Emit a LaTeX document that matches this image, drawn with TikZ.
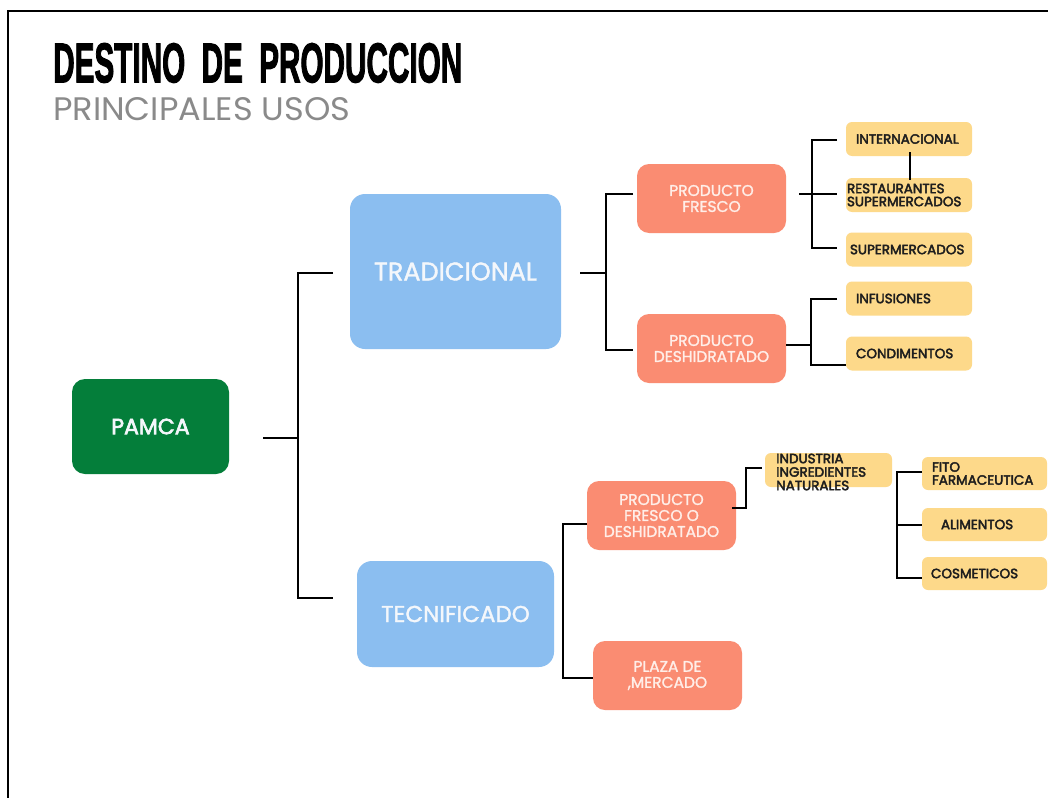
\documentclass[tikz,border=0pt]{standalone}
\usepackage{fontspec}
\setmainfont{Poppins}
\newfontfamily\titlefont[FakeBold=2.5]{Liberation Sans Bold}
\newfontfamily\medfont[FakeBold=1.5]{Poppins}
\newfontfamily\semifont[FakeBold=3]{Poppins}
\usetikzlibrary{calc}
\definecolor{pgreen}{HTML}{047E3A}
\definecolor{pblue}{HTML}{8BBEF0}
\definecolor{psalmon}{HTML}{FA8C72}
\definecolor{pyellow}{HTML}{FDD98A}
\definecolor{wtext}{HTML}{F4F7FB}
\definecolor{stext}{HTML}{FFEEE8}
\definecolor{ytext}{HTML}{1E1E1E}
\definecolor{subgray}{HTML}{8A8A8A}
\begin{document}
\begin{tikzpicture}[x=1pt,y=-1pt,
  conn/.style={line width=2.3pt,black},
  greenbox/.style={fill=pgreen,rounded corners=13pt,inner sep=0pt,minimum width=157pt,minimum height=95pt,text=wtext,font=\fontsize{22}{24}\semifont},
  bluebox/.style={fill=pblue,rounded corners=15pt,inner sep=0pt,text=wtext,font=\fontsize{25.5}{27}\medfont},
  salbox/.style={fill=psalmon,rounded corners=12pt,inner sep=0pt,minimum width=149pt,minimum height=69pt,align=center,text=stext,font=\fontsize{15.5}{16}\medfont},
  yelbox/.style={fill=pyellow,rounded corners=6pt,inner ysep=0pt,minimum width=126pt,minimum height=34pt,align=left,text=ytext,font=\fontsize{13.5}{13}\semifont},
]
\useasboundingbox (0,0) rectangle (1048,797);
\fill[white] (0,0) rectangle (1048,797);
\draw[line width=2pt] (8,800) -- (8,11) -- (1050,11);

% titles
\node[anchor=north west,inner sep=0pt] (title) at (53,43) {\resizebox{409pt}{39pt}{\titlefont DESTINO\hspace{0.55em}DE\hspace{0.55em}PRODUCCION}};
\node[anchor=north west,inner sep=0pt,text=subgray] (subtitle) at (53,97) {\resizebox{297pt}{23pt}{PRINCIPALES USOS}};

% main nodes
\node[greenbox] (pamca) at (150.5,426.5) {PAMCA};
\node[bluebox,minimum width=211pt,minimum height=155pt] (trad) at (455.5,271.5) {TRADICIONAL};
\node[bluebox,minimum width=197pt,minimum height=106pt,font=\fontsize{23}{25}\medfont] (tecn) at (455.5,614) {TECNIFICADO};

\node[salbox] (pfresco) at (711.5,198.5) {PRODUCTO\\FRESCO};
\node[salbox] (pdesh) at (711.5,348.5) {PRODUCTO\\DESHIDRATADO};
\node[salbox] (pfod) at (661.5,515.5) {PRODUCTO\\FRESCO O\\DESHIDRATADO};
\node[salbox] (plaza) at (667.5,675.5) {PLAZA DE\\,MERCADO};

% yellow nodes
\node[yelbox,inner xsep=10pt,text width=106pt] (inter) at (909,139) {INTERNACIONAL};
\node[yelbox,inner xsep=1pt,text width=124pt] (rest) at (909,195) {RESTAURANTES\\SUPERMERCADOS};
\node[yelbox,inner xsep=4pt,text width=118pt] (super) at (909,249.5) {SUPERMERCADOS};
\node[yelbox,inner xsep=10pt,text width=106pt] (infus) at (909,298.5) {INFUSIONES};
\node[yelbox,inner xsep=10pt,text width=106pt] (cond) at (909,353.5) {CONDIMENTOS};

\node[fill=pyellow,rounded corners=6pt,inner sep=0pt,minimum width=127pt,minimum height=34pt] (indus) at (828.5,470) {};
\node[anchor=west,inner sep=0pt,align=left,text=ytext,font=\fontsize{13.5}{13.5}\semifont] (industxt) at (776,472) {INDUSTRIA\\INGREDIENTES\\NATURALES};

\node[yelbox,minimum width=125pt,minimum height=33pt,inner xsep=10pt,text width=105pt] (fito) at (984.5,473.5) {FITO\\FARMACEUTICA};
\node[yelbox,minimum width=125pt,minimum height=33pt,inner xsep=19pt,text width=87pt] (alim) at (984.5,524.5) {ALIMENTOS};
\node[yelbox,minimum width=125pt,minimum height=33pt,inner xsep=9pt,text width=107pt] (cosm) at (984.5,573.5) {COSMETICOS};

% connector junctions
\coordinate (a0) at (263,438);
\coordinate (a1) at (298,438);
\coordinate (a2) at (298,273);
\coordinate (a3) at (333,273);
\coordinate (a4) at (298,598);
\coordinate (a5) at (333,598);

\coordinate (b0) at (580,273);
\coordinate (b1) at (606,273);
\coordinate (b2) at (606,194);
\coordinate (b3) at (633,194);
\coordinate (b4) at (606,350);
\coordinate (b5) at (633,350);

\coordinate (c0) at (799,194);
\coordinate (c1) at (837,194);
\coordinate (c2) at (812,140);
\coordinate (c3) at (837,140);
\coordinate (c4) at (812,248);
\coordinate (c5) at (837,248);
\coordinate (i0) at (910,152);
\coordinate (i1) at (910,180);

\coordinate (d0) at (786,345);
\coordinate (d1) at (811,345);
\coordinate (d2) at (811,299);
\coordinate (d3) at (837,299);
\coordinate (d4) at (811,365);
\coordinate (d5) at (846,365);

\coordinate (e0) at (563,524);
\coordinate (e1) at (587,524);
\coordinate (e2) at (563,678);
\coordinate (e3) at (593,678);

\coordinate (f0) at (732,508);
\coordinate (f1) at (746,508);
\coordinate (f2) at (746,468);
\coordinate (f3) at (762,468);

\coordinate (g0) at (897,472);
\coordinate (g1) at (922,472);
\coordinate (g2) at (897,525);
\coordinate (g3) at (922,525);
\coordinate (g4) at (897,578);
\coordinate (g5) at (922,578);

\draw[conn] (a0) -- (a1);
\draw[conn] (a3) -- (a2) -- (a4) -- (a5);
\draw[conn] (b0) -- (b1);
\draw[conn] (b3) -- (b2) -- (b4) -- (b5);
\draw[conn] (c0) -- (c1);
\draw[conn] (c3) -- (c2) -- (c4) -- (c5);
\draw[conn] (i0) -- (i1);
\draw[conn] (d0) -- (d1);
\draw[conn] (d3) -- (d2) -- (d4) -- (d5);
\draw[conn] (e1) -- (e0) -- (e2) -- (e3);
\draw[conn] (f0) -- (f1) -- (f2) -- (f3);
\draw[conn] (g1) -- (g0) -- (g4) -- (g5);
\draw[conn] (g2) -- (g3);
\end{tikzpicture}
\end{document}
